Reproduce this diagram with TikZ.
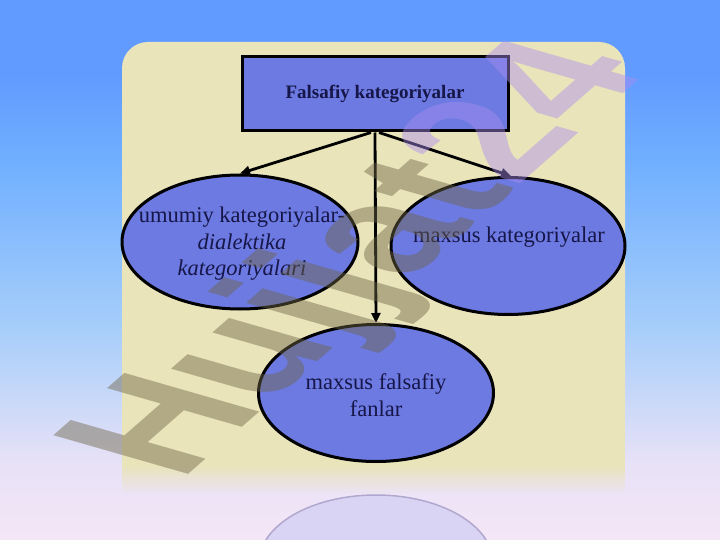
\documentclass[tikz,border=0pt]{standalone}
\usepackage{fontspec}
\setmainfont{Liberation Serif}
\newfontfamily\wmfont{Liberation Sans}
\usetikzlibrary{shapes.geometric,arrows.meta,fadings}
\definecolor{bgA}{RGB}{244,230,246}
\definecolor{bgB}{RGB}{232,226,247}
\definecolor{bgC}{RGB}{165,205,250}
\definecolor{bgD}{RGB}{112,175,255}
\definecolor{bgE}{RGB}{98,155,255}
\definecolor{panel}{RGB}{234,228,186}
\definecolor{shapeblue}{RGB}{108,122,226}
\definecolor{navy}{RGB}{22,22,72}
\definecolor{reflfill}{RGB}{218,212,244}
\definecolor{refldraw}{RGB}{176,168,206}
\definecolor{wmA}{RGB}{110,100,70}
\definecolor{wmB}{RGB}{170,140,240}
\pgfdeclareverticalshading{bgshade}{100bp}{color(0bp)=(bgA); color(25bp)=(bgA); color(32bp)=(bgB); color(45bp)=(bgC); color(60bp)=(bgD); color(68bp)=(bgE); color(100bp)=(bgE)}
\begin{document}
\begin{tikzpicture}[x=1pt,y=-1pt,
  box/.style={draw=black, line width=3pt, fill=shapeblue, minimum width=266pt, minimum height=74pt, inner sep=0pt, text=navy, font=\bfseries\fontsize{19}{22}\selectfont},
  oval/.style={ellipse, draw=black, line width=3pt, fill=shapeblue, inner sep=0pt},
  lbl/.style={align=center, inner sep=0pt, text=navy, font=\fontsize{22.5}{26.5}\selectfont},
  arr/.style={draw=black, line width=2.8pt, -{Triangle[length=10pt,width=9pt]}}]
\useasboundingbox (0,0) rectangle (720,540);
\clip (0,0) rectangle (720,540);
\shade[shading=bgshade] (0,0) rectangle (720,540);
% panel
\fill[panel, rounded corners=26pt] (122,42) rectangle (625,466);
\fill[panel] (122,300) rectangle (625,466);
\fill[panel, path fading=south] (122,465) rectangle (625,494);
% reflection
\filldraw[fill=reflfill, draw=refldraw, line width=1.5pt] (376,563) ellipse [x radius=117, y radius=68];
% diagram
\node[box] (top) at (375,94) {Falsafiy kategoriyalar};
\node[oval, minimum width=236pt, minimum height=134pt] (L) at (240,242) {};
\node[oval, minimum width=234pt, minimum height=137pt] (R) at (508,246) {};
\node[oval, minimum width=235pt, minimum height=137pt] (B) at (376,393) {};
\node[lbl] (Lt) at (242,244) {umumiy kategoriyalar-\\\textit{dialektika}\\\textit{kategoriyalari}};
\node[lbl] (Rt) at (509,237) {maxsus kategoriyalar};
\node[lbl] (Bt) at (376,395) {maxsus falsafiy\\fanlar};
\draw[arr] ([xshift=-4pt]top.south) -- (L.north);
\draw[arr] ([xshift=4pt]top.south) -- ([xshift=3pt]R.north);
\draw[arr] (top.south) -- (B.north);
% watermark
\begin{scope}[shift={(180,482)}, cm={1.21,1.06,-1.96,0.563,(0,0)}]
\node[transform shape, anchor=base west, inner sep=0pt, opacity=0.45, font=\wmfont\bfseries\fontsize{100}{100}\selectfont] (wm) at (0,0) {\textcolor{wmA}{Hujjat}\textcolor{wmB}{24}};
\end{scope}
\end{tikzpicture}
\end{document}
